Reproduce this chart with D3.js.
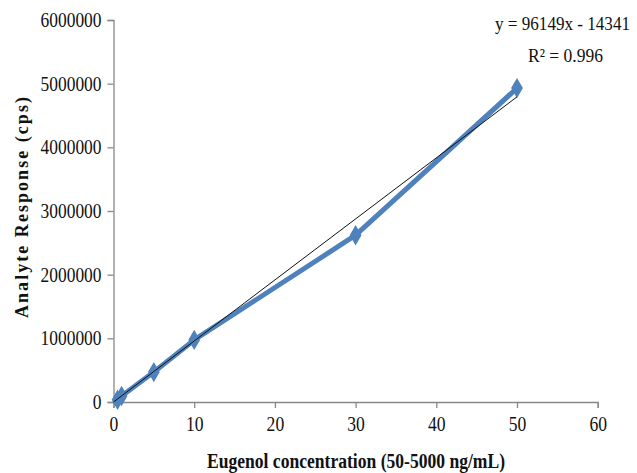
<!DOCTYPE html>
<html>
<head>
<meta charset="utf-8">
<script src="https://cdn.jsdelivr.net/npm/d3@7"></script>
<style>
	body { margin: 0; background: #fff; }
	svg text { font-family: "Liberation Serif", "DejaVu Serif", serif; fill: #111; }
	.axis path, .axis line { stroke: #888; stroke-width: 1.3; }
	.axis text { font-size: 20px; font-family: "Liberation Serif", serif; }
</style>
</head>
<body>
<svg id="plot" width="637" height="473"></svg>
<script>
// concentration (x100 ng/mL) and response in cps
const CONC = [0.5, 1, 5, 10, 30, 50];
const RESPONSE = [35000, 95000, 470000, 975000, 2620000, 4930000];
const X_TICKS = [0, 10, 20, 30, 40, 50, 60];
const Y_TICKS = [0, 1000000, 2000000, 3000000, 4000000, 5000000, 6000000];
const SLOPE = 96149;
const INTERCEPT = -14341;

const svg = d3.select('#plot');
const plotLeft = 113.5, plotRight = 597.7, plotTop = 20, plotBottom = 402;

// the source font is a narrow Times, so squeeze the glyphs a bit
function squeeze(sel, factor) {
	sel.each(function() {
		const w = this.getComputedTextLength();
		d3.select(this).attr('textLength', w * factor).attr('lengthAdjust', 'spacingAndGlyphs');
	});
}

const x = d3.scaleLinear().domain([0, 60]).range([plotLeft, plotRight]);
const y = d3.scaleLinear().domain([0, 6000000]).range([plotBottom, plotTop]);

svg.append('g')
	.attr('class', 'axis')
	.attr('transform', `translate(0,${plotBottom})`)
	.call(d3.axisBottom(x).tickValues(X_TICKS).tickSize(6).tickSizeOuter(6).tickPadding(4))
	.call(g => g.attr('font-family', null))
	.selectAll('text')
		.attr('dy', '0.95em')
		.call(squeeze, 0.88);

svg.append('g')
	.attr('class', 'axis')
	.attr('transform', `translate(${plotLeft},0)`)
	.call(d3.axisLeft(y).tickValues(Y_TICKS).tickFormat(d3.format('d')).tickSize(6).tickSizeOuter(6).tickPadding(6))
	.call(g => g.attr('font-family', null))
	.selectAll('text')
		.attr('dy', '0.33em')
		.call(squeeze, 0.87);

const data = CONC.map((c, i) => ({x: c, y: RESPONSE[i]}));

// data series
svg.append('path')
	.datum(data)
	.attr('fill', 'none')
	.attr('stroke', '#4f81bd')
	.attr('stroke-width', 5)
	.attr('stroke-linejoin', 'round')
	.attr('d', d3.line().x(d => x(d.x)).y(d => y(d.y)));

svg.append('g')
	.selectAll('path')
	.data(data)
	.enter()
	.append('path')
		.attr('d', d3.symbol().type(d3.symbolDiamond).size(120))
		.attr('transform', d => `translate(${x(d.x)},${y(d.y)})`)
		.attr('fill', '#4f81bd');

// linear trendline
const trend = [0, 50].map(c => ({x: c, y: SLOPE * c + INTERCEPT}));
svg.append('path')
	.datum(trend)
	.attr('fill', 'none')
	.attr('stroke', '#111')
	.attr('stroke-width', 1)
	.attr('d', d3.line().x(d => x(d.x)).y(d => Math.min(y(d.y), plotBottom)));

svg.append('text')
	.attr('x', 630).attr('y', 30)
	.attr('text-anchor', 'end')
	.style('font-size', '18px')
	.text('y = 96149x - 14341')
	.attr('textLength', 135).attr('lengthAdjust', 'spacingAndGlyphs');

svg.append('text')
	.attr('x', 528).attr('y', 62)
	.style('font-size', '19px')
	.text('R² = 0.996')
	.attr('textLength', 75).attr('lengthAdjust', 'spacingAndGlyphs');

svg.append('text')
	.attr('x', 207).attr('y', 468)
	.style('font-size', '20px')
	.style('font-weight', 'bold')
	.text('Eugenol concentration (50-5000 ng/mL)')
	.attr('textLength', 298).attr('lengthAdjust', 'spacingAndGlyphs');

svg.append('text')
	.attr('transform', 'translate(28,318) rotate(-90)')
	.style('font-size', '18px')
	.style('font-weight', 'bold')
	.text('Analyte Response (cps)')
	.attr('textLength', 221).attr('lengthAdjust', 'spacing');
</script>
</body>
</html>
